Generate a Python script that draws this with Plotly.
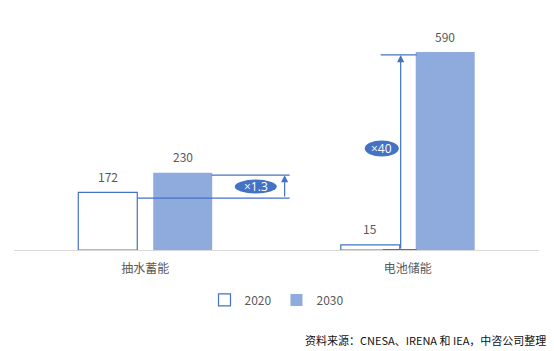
import plotly.graph_objects as go

categories = ["抽水蓄能", "电池储能"]
series_names = ["2020", "2030"]
values_2020 = [172, 15]
values_2030 = [230, 590]
multipliers = ["×1.3", "×40"]
source_text = "资料来源：CNESA、IRENA 和 IEA，中咨公司整理"

BLUE = "#4472C4"
LIGHT = "#8FAADC"
GREY = "#595959"
FONT = "Noto Sans CJK SC"
NUMFONT = "Open Sans"

ymax = max(values_2030) * 220 / 198

fig = go.Figure()
fig.add_trace(go.Bar(
    x=categories, y=values_2020, name=series_names[0],
    marker=dict(color="white", line=dict(color=BLUE, width=1.2)),
))
fig.add_trace(go.Bar(
    x=categories, y=values_2030, name=series_names[1],
    marker=dict(color=LIGHT, line=dict(width=0)),
))

# value labels
off = 0.143
for i in range(len(categories)):
    fig.add_annotation(x=i - off, y=values_2020[i], xref="x", yref="y", text=str(values_2020[i]),
                       showarrow=False, yshift=16, font=dict(size=12, color=GREY, family=FONT))
    fig.add_annotation(x=i + off, y=values_2030[i], xref="x", yref="y", text=str(values_2030[i]),
                       showarrow=False, yshift=16, font=dict(size=12, color=GREY, family=FONT))

# group 1 growth indicator
g = 0
y_lo, y_hi = values_2020[g], values_2030[g]
fig.add_shape(type="line", xref="x", yref="y", x0=g - 0.029, x1=g + 0.55, y0=y_lo * 0.9, y1=y_lo * 0.9,
              line=dict(color=BLUE, width=1.2))
fig.add_shape(type="line", xref="x", yref="y", x0=g + 0.253, x1=g + 0.55, y0=y_hi * 0.97, y1=y_hi * 0.97,
              line=dict(color=BLUE, width=1.2))
fig.add_annotation(x=g + 0.531, y=y_hi * 0.97, ax=g + 0.531, ay=y_lo * 0.9, xref="x", yref="y",
                   axref="x", ayref="y", text="", showarrow=True, arrowhead=2, arrowsize=1.2,
                   arrowwidth=1.2, arrowcolor=BLUE)
ym1 = (y_lo * 0.9 + y_hi * 0.97) / 2
fig.add_shape(type="circle", xref="x", yref="y", xsizemode="pixel", ysizemode="pixel",
              xanchor=g + 0.421, yanchor=ym1, x0=-21, x1=21, y0=-7, y1=7,
              fillcolor=BLUE, line=dict(color=BLUE, width=0))
fig.add_annotation(x=g + 0.421, y=ym1, xref="x", yref="y", text=multipliers[g], showarrow=False,
                   font=dict(size=12, color="white", family=NUMFONT))

# group 2 growth indicator
g = 1
y_lo2, y_hi2 = values_2020[g], values_2030[g]
fig.add_shape(type="line", xref="x", yref="y", x0=g - 0.103, x1=g + 0.034, y0=y_hi2 * 0.985,
              y1=y_hi2 * 0.985, line=dict(color=BLUE, width=1.2))
fig.add_shape(type="line", xref="x", yref="y", x0=g - 0.095, x1=g + 0.034, y0=1, y1=1,
              line=dict(color=BLUE, width=1.2))
fig.add_annotation(x=g - 0.027, y=y_hi2 * 0.985, ax=g - 0.027, ay=0, xref="x", yref="y",
                   axref="x", ayref="y", text="", showarrow=True, arrowhead=2, arrowsize=1.2,
                   arrowwidth=1.2, arrowcolor=BLUE)
ym2 = (y_lo2 + y_hi2) / 2
fig.add_shape(type="circle", xref="x", yref="y", xsizemode="pixel", ysizemode="pixel",
              xanchor=g - 0.099, yanchor=ym2, x0=-17, x1=17, y0=-8, y1=8,
              fillcolor=BLUE, line=dict(color=BLUE, width=0))
fig.add_annotation(x=g - 0.099, y=ym2, xref="x", yref="y", text=multipliers[g], showarrow=False,
                   font=dict(size=12, color="white", family=NUMFONT))

# source
fig.add_annotation(x=1.017, y=-0.409, xref="paper", yref="paper", xanchor="right", yanchor="middle",
                   text=source_text, showarrow=False, font=dict(size=11, color="#111111", family=FONT))

fig.update_layout(
    width=554, height=351,
    margin=dict(l=14, r=15, t=30, b=101),
    paper_bgcolor="white", plot_bgcolor="white",
    barmode="group", bargap=0.429, bargroupgap=0.213,
    font=dict(family=FONT, size=12, color=GREY),
    showlegend=True,
    legend=dict(orientation="h", x=0.5, xanchor="center", y=-0.227, yanchor="middle",
                font=dict(size=12, color=GREY, family=FONT), itemwidth=30),
    xaxis=dict(showline=True, linecolor="#D9D9D9", linewidth=1, ticks="", showgrid=False,
               ticklabelstandoff=8, tickfont=dict(size=12, color=GREY, family=FONT)),
    yaxis=dict(range=[0, ymax], visible=False, showgrid=False),
)

fig.write_html("out.html")
